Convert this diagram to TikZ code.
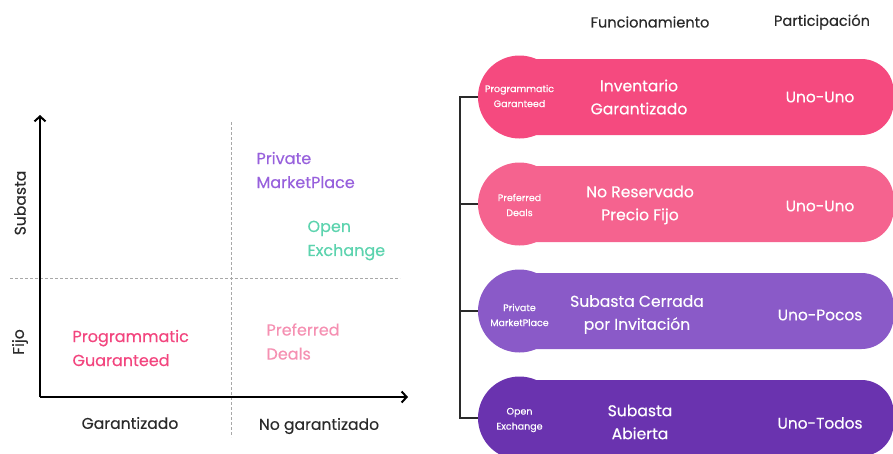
\documentclass[tikz,border=0pt]{standalone}
\usepackage{fontspec}
\setmainfont{Poppins}[FakeBold=0.35]
\usetikzlibrary{arrows.meta}
\definecolor{pkA}{HTML}{F54A7F}
\definecolor{pkB}{HTML}{F5638F}
\definecolor{puA}{HTML}{8A5AC8}
\definecolor{puB}{HTML}{6A33AF}
\definecolor{txPG}{HTML}{F2457E}
\definecolor{txPD}{HTML}{F590B2}
\definecolor{txPM}{HTML}{9760DC}
\definecolor{txOE}{HTML}{5CD3AE}
\definecolor{txDark}{HTML}{2A2A2A}
\definecolor{dashgray}{HTML}{A8A8A8}
\begin{document}
\begin{tikzpicture}[x=1pt,y=-1pt,
  bar/.style={rectangle, rounded corners=32pt, minimum width=393pt, minimum height=76pt, inner sep=0pt},
  disc/.style={circle, minimum size=83pt, inner sep=0pt},
  small/.style={text=white, align=center, font=\fontsize{9.5}{15}\selectfont},
  mid/.style={text=white, align=center, font=\fontsize{15.6}{23}\selectfont},
  part/.style={text=white, font=\fontsize{15.4}{23}\selectfont},
  head/.style={text=txDark, font=\fontsize{14.6}{16}\selectfont},
  lab/.style={align=left, anchor=west, font=\fontsize{16}{24}\selectfont},
  axlab/.style={text=txDark, font=\fontsize{15.6}{18}\selectfont},
  axis/.style={line width=2.4pt, -{Straight Barb[length=5pt,width=11pt,line width=2pt]}},
  grid/.style={dashgray, line width=0.9pt, dash pattern=on 3pt off 2pt},
  bracket/.style={txDark, line width=1.2pt}
]
\useasboundingbox (0,0) rectangle (893,453);

% ---------- left chart ----------
\coordinate (o) at (40,397);
\coordinate (ytop) at (40,115);
\coordinate (xend) at (408,397);
\coordinate (vt) at (231,122);
\coordinate (vb) at (231,437);
\coordinate (hl) at (10,278);
\coordinate (hr) at (400,278);
\draw[grid] (vt) -- (vb);
\draw[grid] (hl) -- (hr);
\draw[axis] (o) -- (ytop);
\draw[axis] (o) -- (xend);

\node[axlab, rotate=90] (subasta) at (20,203) {Subasta};
\node[axlab, rotate=90] (fijo) at (20,342) {Fijo};
\node[axlab] (gar) at (130,423) {Garantizado};
\node[axlab] (nogar) at (319,426) {No garantizado};

\node[lab, text=txPM] (pm) at (253,170) {Private\\MarketPlace};
\node[lab, text=txOE] (oe) at (304,240.5) {Open\\Exchange};
\node[lab, text=txPG] (pg) at (69,348) {Programmatic\\Guaranteed};
\node[lab, text=txPD] (pd) at (263,341.5) {Preferred\\Deals};

% ---------- right side ----------
\node[head] (h1) at (650,22) {Funcionamiento};
\node[head] (h2) at (822,22) {Participación};

\node[bar, fill=pkA] (b1) at (697,97) {};
\node[disc, fill=pkA] (c1) at (519.5,97) {};
\node[bar, fill=pkB] (b2) at (697,204) {};
\node[disc, fill=pkB] (c2) at (519.5,204) {};
\node[bar, fill=puA] (b3) at (697,311) {};
\node[disc, fill=puA] (c3) at (519.5,311) {};
\node[bar, fill=puB] (b4) at (697,418) {};
\node[disc, fill=puB] (c4) at (519.5,418) {};

\node[small] (s1) at (519.5,96) {Programmatic\\Garanteed};
\node[small] (s2) at (519.5,205) {Preferred\\Deals};
\node[small] (s3) at (519.5,315) {Private\\MarketPlace};
\node[small] (s4) at (519.5,420) {Open\\Exchange};

\node[mid] (m1) at (639,97) {Inventario\\Garantizado};
\node[mid] (m2) at (640,205) {No Reservado\\Precio Fijo};
\node[mid] (m3) at (637,314.5) {Subasta Cerrada\\por Invitación};
\node[mid] (m4) at (640,422) {Subasta\\Abierta};

\node[part] (p1) at (820,97) {Uno-Uno};
\node[part] (p2) at (820,206) {Uno-Uno};
\node[part] (p3) at (820,315) {Uno-Pocos};
\node[part] (p4) at (820,423) {Uno-Todos};

\coordinate (bk) at (460,0);
\draw[bracket] (c1.west) -- (c1.west -| bk) -- (c4.west -| bk) -- (c4.west);
\draw[bracket] (c2.west -| bk) -- (c2.west);
\draw[bracket] (c3.west -| bk) -- (c3.west);
\end{tikzpicture}
\end{document}
